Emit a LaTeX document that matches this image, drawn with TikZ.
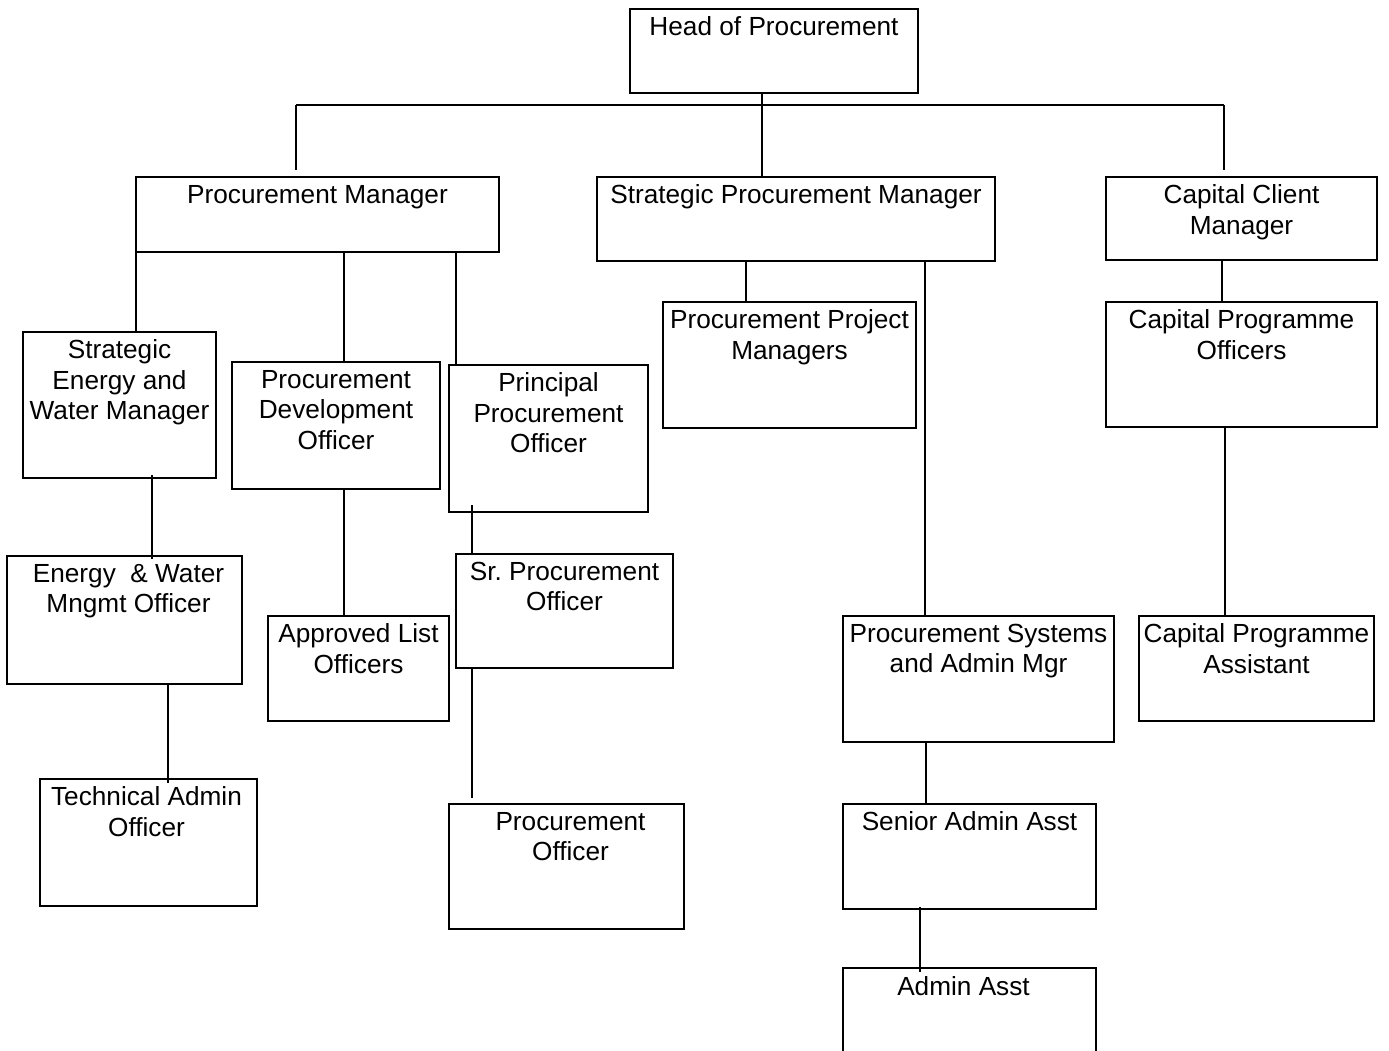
\documentclass[tikz,border=0pt]{standalone}
\usepackage{fontspec}
\setmainfont{Liberation Sans}
\usetikzlibrary{calc}
\frenchspacing
\tikzset{
  obox/.style={draw=black, line width=1.8pt, rectangle, inner sep=0pt, outer sep=0pt},
  otext/.style={anchor=north, align=center, inner sep=0pt, outer sep=0pt,
    font=\fontsize{26.2}{30.5}\selectfont},
  conn/.style={draw=black, line width=1.8pt}
}
% name, x1, y1, x2, y2, text, text x offset
\newcommand\orgbox[7]{%
  \pgfmathsetmacro\obw{#4-#2}%
  \pgfmathsetmacro\obh{#5-#3}%
  \node[obox, minimum width=\obw pt, minimum height=\obh pt] (#1) at ({(#2+#4)/2},{(#3+#5)/2}) {};
  \node[otext] (#1-t) at ($(#1.north)+(#7,8)$) {#6};
}
\begin{document}
\begin{tikzpicture}[x=1pt,y=-1pt]
\clip (0,0) rectangle (1389,1050);
\fill[white] (0,0) rectangle (1389,1050);

\orgbox{hp}{630}{9}{918}{93}{Head of Procurement}{0}
\orgbox{pm}{136}{177}{499}{252}{Procurement Manager}{0}
\orgbox{spm}{597}{177}{995}{261}{Strategic Procurement Manager}{0}
\orgbox{ccm}{1106}{177}{1377}{260}{Capital Client\\Manager}{0}
\orgbox{sewm}{23}{332}{216}{478}{Strategic\\Energy and\\Water Manager}{0}
\orgbox{pdo}{232}{362}{440}{489}{Procurement\\Development\\Officer}{0}
\orgbox{ppo}{449}{365}{648}{512}{Principal\\Procurement\\Officer}{0}
\orgbox{ppm}{663}{302}{916}{428}{Procurement Project\\Managers}{0}
\orgbox{cpo}{1106}{302}{1377}{427}{Capital Programme\\Officers}{0}
\orgbox{ewmo}{7}{556}{242}{684}{Energy~ \& Water\\Mngmt Officer}{4}
\orgbox{alo}{268}{616}{449}{721}{Approved List\\Officers}{0}
\orgbox{spo}{456}{554}{673}{668}{Sr. Procurement\\Officer}{0}
\orgbox{psam}{843}{616}{1114}{742}{Procurement Systems\\and Admin Mgr}{0}
\orgbox{cpa}{1139}{616}{1374}{721}{Capital Programme\\Assistant}{0}
\orgbox{tao}{40}{779}{257}{906}{Technical Admin\\Officer}{-2}
\orgbox{po}{449}{804}{684}{929}{Procurement\\Officer}{4}
\orgbox{saa}{843}{804}{1096}{909}{Senior Admin Asst}{0}
\orgbox{aa}{843}{968}{1096}{1080}{Admin Asst}{-6}

% top bus
\coordinate (busL) at (296,105);
\coordinate (busR) at (1224,105);
\draw[conn] (busL) -- (busR);
\draw[conn] ($(hp.south)+(-12,0)$) -- ($(spm.north -| hp.south)+(-12,0)$);
\draw[conn] (busL) -- ($(pm.north -| busL)+(0,-7)$);
\draw[conn] (busR) -- ($(ccm.north -| busR)+(0,-7)$);

% procurement manager
\draw[conn] (pm.south west) -- (sewm.north -| pm.south west);
\draw[conn] ($(pm.south -| pdo.north)+(8,0)$) -- ($(pdo.north)+(8,0)$);
\draw[conn] ($(pm.south -| ppo.north west)+(7,0)$) -- ($(ppo.north west)+(7,0)$);

% strategic procurement manager
\draw[conn] ($(spm.south -| ppm.north)+(-43.5,0)$) -- ($(ppm.north)+(-43.5,0)$);
\draw[conn] ($(spm.south -| psam.north)+(-53.5,0)$) -- ($(psam.north)+(-53.5,0)$);

% capital client manager
\draw[conn] ($(ccm.south -| cpo.north)+(-19.5,0)$) -- ($(cpo.north)+(-19.5,0)$);
\draw[conn] ($(cpo.south -| cpa.north)+(-31.5,0)$) -- ($(cpa.north)+(-31.5,0)$);

% lower levels
\draw[conn] ($(sewm.south -| ewmo.north)+(27.5,-3)$) -- ($(ewmo.north)+(27.5,3)$);
\draw[conn] ($(pdo.south)+(8,0)$) -- ($(alo.north -| pdo.south)+(8,0)$);
\draw[conn] ($(ppo.south west)+(23,-7)$) -- ($(spo.north -| ppo.south west)+(23,0)$);
\draw[conn] ($(spo.south west)+(16,0)$) -- ($(po.north -| spo.south west)+(16,-6)$);
\draw[conn] ($(ewmo.south west)+(161,0)$) -- ($(tao.north -| ewmo.south west)+(161,4)$);
\draw[conn] ($(psam.south west)+(83,0)$) -- ($(saa.north -| psam.south west)+(83,0)$);
\draw[conn] ($(saa.south west)+(77,-2)$) -- ($(aa.north -| saa.south west)+(77,4)$);
\end{tikzpicture}
\end{document}
